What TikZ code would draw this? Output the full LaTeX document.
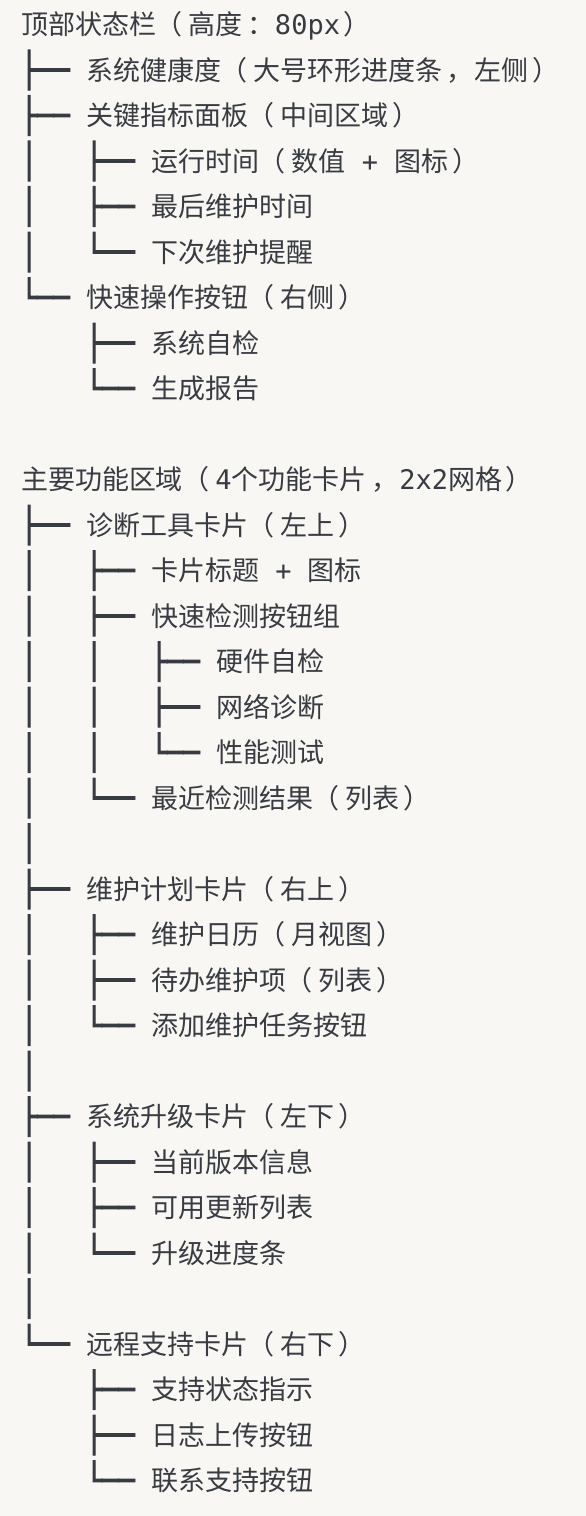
\documentclass[tikz,border=0pt]{standalone}
\usepackage{fontspec}
\usepackage{graphicx}
\setmainfont{DejaVu Sans Mono}
\newfontfamily\cjk{Noto Sans CJK SC}
\newfontfamily\treefont[FakeBold=3]{DejaVu Sans Mono}
\definecolor{paper}{RGB}{248,247,244}
\definecolor{ink}{RGB}{56,59,65}
% tree glyphs, stretched to the full line height
\newcommand{\bxT}{\resizebox*{48.75pt}{40pt}{\treefont\vphantom{│}├──}}
\newcommand{\bxL}{\resizebox*{48.75pt}{40pt}{\treefont\vphantom{│}└──}}
\newcommand{\bxV}{\resizebox*{16.25pt}{40pt}{\treefont │}}
% full-width punctuation takes two monospace cells;
% opening marks sit at the right of the slot, the others at the left
\newcommand{\fwo}[1]{\makebox[32.5pt][r]{\cjk #1\kern\dimexpr 7pt-\XeTeXglyphbounds3 \XeTeXcharglyph`#1\relax}}
\newcommand{\fwc}[2]{\makebox[32.5pt][l]{\cjk\kern\dimexpr #1-\XeTeXglyphbounds1 \XeTeXcharglyph`#2\relax #2}}
\newcommand{\lpar}{\fwo{（}}
\newcommand{\rpar}{\fwc{5pt}{）}}
\newcommand{\fcomma}{\fwc{8pt}{，}}
\newcommand{\fcolon}{\fwc{10pt}{：}}
% vertical centre of line #1
\newcommand{\ry}[1]{(24.5+45.5*#1)}
\begin{document}
\begin{tikzpicture}[x=1pt,y=-1pt,
  every node/.style={inner sep=0pt,outer sep=0pt,text=ink,font=\fontsize{27pt}{27pt}\selectfont},
  txt/.style={anchor=base west},
  glyph/.style={anchor=west}]
\fill[paper] (0,0) rectangle (586,1516);
\useasboundingbox (0,0) rectangle (586,1516);

% columns: 21, 86, 151, 216
\node[txt] (t0) at (21,{\ry{0}+10}) {{\cjk 顶部状态栏}\lpar{\cjk 高度}\fcolon 80px\rpar};
\node[glyph] (b1) at (21,{\ry{1}}) {\bxT};
\node[txt] (t1) at (86,{\ry{1}+10}) {{\cjk 系统健康度}\lpar{\cjk 大号环形进度条}\fcomma{\cjk 左侧}\rpar};
\node[glyph] (b2) at (21,{\ry{2}}) {\bxT};
\node[txt] (t2) at (86,{\ry{2}+10}) {{\cjk 关键指标面板}\lpar{\cjk 中间区域}\rpar};
\node[glyph] (v3) at (21,{\ry{3}}) {\bxV};
\node[glyph] (b3) at (86,{\ry{3}}) {\bxT};
\node[txt] (t3) at (151,{\ry{3}+10}) {{\cjk 运行时间}\lpar{\cjk 数值} + {\cjk 图标}\rpar};
\node[glyph] (v4) at (21,{\ry{4}}) {\bxV};
\node[glyph] (b4) at (86,{\ry{4}}) {\bxT};
\node[txt] (t4) at (151,{\ry{4}+10}) {\cjk 最后维护时间};
\node[glyph] (v5) at (21,{\ry{5}}) {\bxV};
\node[glyph] (b5) at (86,{\ry{5}}) {\bxL};
\node[txt] (t5) at (151,{\ry{5}+10}) {\cjk 下次维护提醒};
\node[glyph] (b6) at (21,{\ry{6}}) {\bxL};
\node[txt] (t6) at (86,{\ry{6}+10}) {{\cjk 快速操作按钮}\lpar{\cjk 右侧}\rpar};
\node[glyph] (b7) at (86,{\ry{7}}) {\bxT};
\node[txt] (t7) at (151,{\ry{7}+10}) {\cjk 系统自检};
\node[glyph] (b8) at (86,{\ry{8}}) {\bxL};
\node[txt] (t8) at (151,{\ry{8}+10}) {\cjk 生成报告};

\node[txt] (t10) at (21,{\ry{10}+10}) {{\cjk 主要功能区域}\lpar 4{\cjk 个功能卡片}\fcomma 2x2{\cjk 网格}\rpar};
\node[glyph] (b11) at (21,{\ry{11}}) {\bxT};
\node[txt] (t11) at (86,{\ry{11}+10}) {{\cjk 诊断工具卡片}\lpar{\cjk 左上}\rpar};
\node[glyph] (v12) at (21,{\ry{12}}) {\bxV};
\node[glyph] (b12) at (86,{\ry{12}}) {\bxT};
\node[txt] (t12) at (151,{\ry{12}+10}) {{\cjk 卡片标题} + {\cjk 图标}};
\node[glyph] (v13) at (21,{\ry{13}}) {\bxV};
\node[glyph] (b13) at (86,{\ry{13}}) {\bxT};
\node[txt] (t13) at (151,{\ry{13}+10}) {\cjk 快速检测按钮组};
\node[glyph] (v14a) at (21,{\ry{14}}) {\bxV};
\node[glyph] (v14b) at (86,{\ry{14}}) {\bxV};
\node[glyph] (b14) at (151,{\ry{14}}) {\bxT};
\node[txt] (t14) at (216,{\ry{14}+10}) {\cjk 硬件自检};
\node[glyph] (v15a) at (21,{\ry{15}}) {\bxV};
\node[glyph] (v15b) at (86,{\ry{15}}) {\bxV};
\node[glyph] (b15) at (151,{\ry{15}}) {\bxT};
\node[txt] (t15) at (216,{\ry{15}+10}) {\cjk 网络诊断};
\node[glyph] (v16a) at (21,{\ry{16}}) {\bxV};
\node[glyph] (v16b) at (86,{\ry{16}}) {\bxV};
\node[glyph] (b16) at (151,{\ry{16}}) {\bxL};
\node[txt] (t16) at (216,{\ry{16}+10}) {\cjk 性能测试};
\node[glyph] (v17) at (21,{\ry{17}}) {\bxV};
\node[glyph] (b17) at (86,{\ry{17}}) {\bxL};
\node[txt] (t17) at (151,{\ry{17}+10}) {{\cjk 最近检测结果}\lpar{\cjk 列表}\rpar};
\node[glyph] (v18) at (21,{\ry{18}}) {\bxV};

\node[glyph] (b19) at (21,{\ry{19}}) {\bxT};
\node[txt] (t19) at (86,{\ry{19}+10}) {{\cjk 维护计划卡片}\lpar{\cjk 右上}\rpar};
\node[glyph] (v20) at (21,{\ry{20}}) {\bxV};
\node[glyph] (b20) at (86,{\ry{20}}) {\bxT};
\node[txt] (t20) at (151,{\ry{20}+10}) {{\cjk 维护日历}\lpar{\cjk 月视图}\rpar};
\node[glyph] (v21) at (21,{\ry{21}}) {\bxV};
\node[glyph] (b21) at (86,{\ry{21}}) {\bxT};
\node[txt] (t21) at (151,{\ry{21}+10}) {{\cjk 待办维护项}\lpar{\cjk 列表}\rpar};
\node[glyph] (v22) at (21,{\ry{22}}) {\bxV};
\node[glyph] (b22) at (86,{\ry{22}}) {\bxL};
\node[txt] (t22) at (151,{\ry{22}+10}) {\cjk 添加维护任务按钮};
\node[glyph] (v23) at (21,{\ry{23}}) {\bxV};

\node[glyph] (b24) at (21,{\ry{24}}) {\bxT};
\node[txt] (t24) at (86,{\ry{24}+10}) {{\cjk 系统升级卡片}\lpar{\cjk 左下}\rpar};
\node[glyph] (v25) at (21,{\ry{25}}) {\bxV};
\node[glyph] (b25) at (86,{\ry{25}}) {\bxT};
\node[txt] (t25) at (151,{\ry{25}+10}) {\cjk 当前版本信息};
\node[glyph] (v26) at (21,{\ry{26}}) {\bxV};
\node[glyph] (b26) at (86,{\ry{26}}) {\bxT};
\node[txt] (t26) at (151,{\ry{26}+10}) {\cjk 可用更新列表};
\node[glyph] (v27) at (21,{\ry{27}}) {\bxV};
\node[glyph] (b27) at (86,{\ry{27}}) {\bxL};
\node[txt] (t27) at (151,{\ry{27}+10}) {\cjk 升级进度条};
\node[glyph] (v28) at (21,{\ry{28}}) {\bxV};

\node[glyph] (b29) at (21,{\ry{29}}) {\bxL};
\node[txt] (t29) at (86,{\ry{29}+10}) {{\cjk 远程支持卡片}\lpar{\cjk 右下}\rpar};
\node[glyph] (b30) at (86,{\ry{30}}) {\bxT};
\node[txt] (t30) at (151,{\ry{30}+10}) {\cjk 支持状态指示};
\node[glyph] (b31) at (86,{\ry{31}}) {\bxT};
\node[txt] (t31) at (151,{\ry{31}+10}) {\cjk 日志上传按钮};
\node[glyph] (b32) at (86,{\ry{32}}) {\bxL};
\node[txt] (t32) at (151,{\ry{32}+10}) {\cjk 联系支持按钮};
\end{tikzpicture}
\end{document}
